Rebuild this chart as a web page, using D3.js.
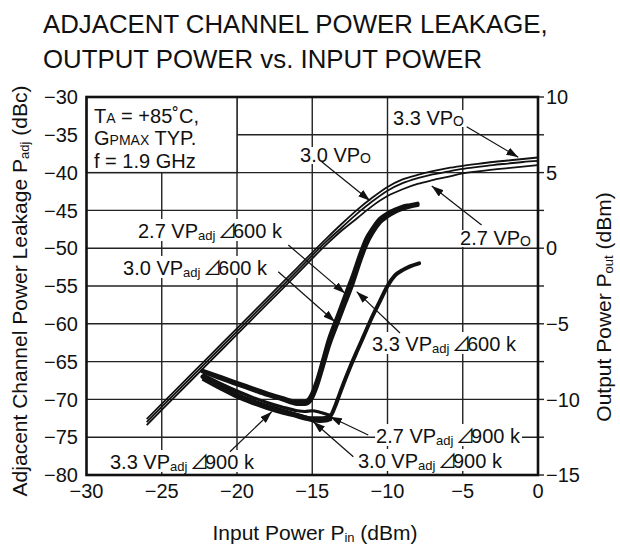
<!DOCTYPE html>
<html>
<head>
<meta charset="utf-8">
<script src="https://cdn.jsdelivr.net/npm/d3@7"></script>
<style>
  body { margin: 0; background: #fff; }
  text { font-family: "Liberation Sans", Arial, "DejaVu Sans", sans-serif; fill: #111; }
</style>
</head>
<body>
<div id="chart"></div>
<script>
// input power grid for output power curves (dBm)
var pinOut = [-26, -24, -22, -20, -18, -16, -14, -13, -12, -11, -10, -9, -8, -7, -6, -5, -4, -3, -2, -1, 0];
var pout33 = [-11.3, -9.3, -7.3, -5.3, -3.3, -1.3, 0.7, 1.65, 2.55, 3.35, 4.05, 4.55, 4.85, 5.1, 5.3, 5.45, 5.58, 5.7, 5.8, 5.9, 6.0];
var pout30 = [-11.5, -9.5, -7.5, -5.5, -3.5, -1.5, 0.5, 1.4, 2.3, 3.1, 3.8, 4.3, 4.63, 4.88, 5.07, 5.25, 5.38, 5.5, 5.6, 5.7, 5.77];
var pout27 = [-11.7, -9.7, -7.7, -5.7, -3.7, -1.7, 0.3, 1.2, 2.0, 2.8, 3.45, 3.9, 4.25, 4.5, 4.72, 4.95, 5.08, 5.2, 5.3, 5.4, 5.5];

// adjacent channel leakage, 600 kHz offset (dBc)
var pin600 = [-22.3, -21, -20, -19, -18, -17, -16, -15.5, -15.1, -14.7, -14.3, -13.9, -13.3, -12.8, -12.3, -11.8, -11.4, -11.0, -10.5, -10, -9.5, -9, -8.5, -8];
var adj600_30 = [-66.3, -67.3, -68.0, -68.7, -69.4, -70.0, -70.6, -70.6, -70.1, -68.3, -65.7, -63.0, -59.8, -57.2, -54.6, -51.6, -49.5, -48.0, -46.6, -45.8, -45.2, -44.8, -44.5, -44.3];
var adj600_27 = [-66.2, -67.1, -67.8, -68.5, -69.2, -69.8, -70.3, -70.3, -69.6, -67.6, -64.9, -62.1, -58.9, -56.2, -53.6, -50.7, -48.7, -47.4, -46.1, -45.4, -44.9, -44.5, -44.3, -44.1];
var pin600b = [-22.3, -21, -20, -19, -18, -17, -16, -15, -14.3, -13.8, -13.5, -13.2, -12.9, -12.5, -12.0, -11.6, -11.0, -10.5, -10.0, -9.5, -9.0, -8.5, -7.9];
var adj600_33 = [-67.0, -68.5, -69.4, -70.3, -71.0, -71.6, -72.1, -72.5, -72.5, -72.2, -71.0, -69.4, -67.8, -65.8, -63.5, -61.7, -59.0, -57.0, -55.0, -53.6, -52.9, -52.4, -52.0];

// adjacent channel leakage, 900 kHz offset (dBc)
var pin900 = [-22.3, -21, -20, -19, -18, -17, -16, -15.5, -15, -14.5, -14, -13.7];
var adj900_27 = [-66.7, -68.0, -68.9, -69.7, -70.4, -71.0, -71.5, -71.6, -71.5, -71.7, -72.0, -72.2];
var adj900_30 = [-67.0, -68.3, -69.3, -70.1, -70.8, -71.4, -72.0, -72.3, -72.6, -72.7, -72.6, -72.4];
var adj900_33 = [-67.3, -68.7, -69.7, -70.5, -71.2, -71.8, -72.3, -72.6, -72.8, -72.9, -72.8, -72.6];

var xTicks = [-30, -25, -20, -15, -10, -5, 0];
var yLeftTicks = [-30, -35, -40, -45, -50, -55, -60, -65, -70, -75, -80];
var yRightTicks = [10, 5, 0, -5, -10, -15];

// labels: [Pin, Padj] of text start, then arrow from -> tip
var labels = [
  {v: "3.3", sub: "O", kind: "po", at: [-9.63, -33.7], from: [-4.74, -33.93], to: [-1.31, -37.98]},
  {v: "3.0", sub: "O", kind: "po", at: [-15.81, -38.6], from: [-14.37, -38.56], to: [-11.16, -43.72]},
  {v: "2.7", sub: "O", kind: "po", at: [-5.18, -49.58], from: [-3.75, -46.93], to: [-7.06, -41.77]},
  {v: "2.7", off: "600", kind: "adj", at: [-26.58, -48.65], from: [-16.59, -49.58], to: [-12.82, -55.97]},
  {v: "3.0", off: "600", kind: "adj", at: [-27.57, -53.54], from: [-17.26, -53.11], to: [-13.49, -59.72]},
  {v: "3.3", off: "600", kind: "adj", at: [-11.03, -63.6], from: [-9.17, -61.22], to: [-12.05, -55.75]},
  {v: "2.7", off: "900", kind: "adj", at: [-10.76, -75.77], from: [-11.28, -74.71], to: [-13.82, -72.29]},
  {v: "3.0", off: "900", kind: "adj", at: [-11.96, -79.07], from: [-12.27, -77.58], to: [-14.93, -72.95]},
  {v: "3.3", off: "900", kind: "adj", at: [-28.44, -79.21], from: [-20.47, -76.92], to: [-17.69, -71.63]}
];

var W = 620, H = 547;
var L = 86.5, R = 538, T = 97, B = 475;

var svg = d3.select("#chart").append("svg")
    .attr("width", W)
    .attr("height", H);

var x = d3.scaleLinear().domain([-30, 0]).range([L, R]);
var yL = d3.scaleLinear().domain([-80, -30]).range([B, T]);
var yR = d3.scaleLinear().domain([-15, 10]).range([B, T]);

// title
svg.append("text").attr("x", 43).attr("y", 33).attr("font-size", 25.8)
    .text("ADJACENT CHANNEL POWER LEAKAGE,");
svg.append("text").attr("x", 43).attr("y", 68).attr("font-size", 25.8)
    .text("OUTPUT POWER vs. INPUT POWER");

// grid
var grid = svg.append("g").attr("stroke", "#222").attr("stroke-width", 1.4);
grid.selectAll(".gx").data(xTicks.slice(1, -1)).enter().append("line")
    .attr("x1", d => x(d)).attr("x2", d => x(d))
    .attr("y1", T).attr("y2", B);
grid.selectAll(".gy").data(yLeftTicks.slice(1, -1)).enter().append("line")
    .attr("x1", L).attr("x2", R)
    .attr("y1", d => yL(d)).attr("y2", d => yL(d));

// right side outer ticks at every grid line
svg.append("g").attr("stroke", "#222").attr("stroke-width", 1.4)
    .selectAll("line").data(yLeftTicks).enter().append("line")
    .attr("x1", R).attr("x2", R + 6)
    .attr("y1", d => yL(d)).attr("y2", d => yL(d));

// tick labels
svg.append("g").selectAll("text").data(yLeftTicks).enter().append("text")
    .attr("x", 78).attr("y", d => yL(d)).attr("dy", "0.36em")
    .attr("text-anchor", "end").attr("font-size", 20)
    .text(d => String(d).replace("-", "\u2212"));
svg.append("g").selectAll("text").data(yRightTicks).enter().append("text")
    .attr("x", 546).attr("y", d => yR(d)).attr("dy", "0.36em")
    .attr("font-size", 20)
    .text(d => String(d).replace("-", "\u2212"));
svg.append("g").selectAll("text").data(xTicks).enter().append("text")
    .attr("x", d => x(d)).attr("y", 498)
    .attr("text-anchor", "middle").attr("font-size", 20)
    .text(d => String(d).replace("-", "\u2212"));

// axis titles
var lt = svg.append("text").attr("transform", "translate(27,291) rotate(-90)")
    .attr("text-anchor", "middle").attr("font-size", 21);
lt.append("tspan").text("Adjacent Channel Power Leakage  P");
lt.append("tspan").attr("font-size", 13).attr("dy", 2).text("adj");
lt.append("tspan").attr("dy", -2).text(" (dBc)");

var rt = svg.append("text").attr("transform", "translate(611,307) rotate(-90)")
    .attr("text-anchor", "middle").attr("font-size", 21);
rt.append("tspan").text("Output Power  P");
rt.append("tspan").attr("font-size", 13).attr("dy", 2).text("out");
rt.append("tspan").attr("dy", -2).text(" (dBm)");

var bt = svg.append("text").attr("x", 315).attr("y", 540)
    .attr("text-anchor", "middle").attr("font-size", 21);
bt.append("tspan").text("Input Power  P");
bt.append("tspan").attr("font-size", 13).attr("dy", 2).text("in");
bt.append("tspan").attr("dy", -2).text(" (dBm)");

// condition box
svg.append("rect")
    .attr("x", x(-30)).attr("y", yL(-30))
    .attr("width", x(-20) - x(-30)).attr("height", yL(-40) - yL(-30))
    .attr("fill", "#fff").attr("stroke", "#222").attr("stroke-width", 1.4);
var c1 = svg.append("text").attr("x", 94).attr("y", 123).attr("font-size", 20);
c1.append("tspan").text("T");
c1.append("tspan").attr("font-size", 14).text("A");
c1.append("tspan").text(" = +85\u02DAC,");
var c2 = svg.append("text").attr("x", 94).attr("y", 145).attr("font-size", 20);
c2.append("tspan").text("G");
c2.append("tspan").attr("font-size", 14).text("PMAX");
c2.append("tspan").text(" TYP.");
svg.append("text").attr("x", 94).attr("y", 168).attr("font-size", 20).text("f = 1.9 GHz");

// annotation labels with white backing
var lab = svg.append("g");
labels.forEach(function(d) {
    var g = lab.append("g");
    var t = g.append("text").attr("x", x(d.at[0])).attr("y", yL(d.at[1])).attr("font-size", 20);
    t.append("tspan").text(d.v + " VP");
    if (d.kind == "po") {
        t.append("tspan").attr("font-size", 14).attr("dy", 1).text(d.sub);
    } else {
        t.append("tspan").attr("font-size", 13).attr("dy", 2).text("adj");
        t.append("tspan").attr("dy", -2).text("  ");
        t.append("tspan").attr("font-family", "'Noto Sans CJK JP', 'DejaVu Sans', sans-serif")
            .attr("font-size", 19).attr("dx", -3).text("\u22BF");
        t.append("tspan").attr("dx", -4).text(d.off + " k");
    }
    var bb = t.node().getBBox();
    g.insert("rect", "text")
        .attr("x", bb.x - 1).attr("y", bb.y + 3)
        .attr("width", bb.width + 2).attr("height", bb.height - 5)
        .attr("fill", "#fff");
});

// curves
var lineR = d3.line().x(d => x(d[0])).y(d => yR(d[1])).curve(d3.curveMonotoneX);
var lineL = d3.line().x(d => x(d[0])).y(d => yL(d[1])).curve(d3.curveMonotoneX);

var outs = [pout33, pout30, pout27];
svg.append("g").selectAll("path").data(outs).enter().append("path")
    .attr("d", s => lineR(d3.zip(pinOut, s)))
    .attr("fill", "none").attr("stroke", "#111").attr("stroke-width", 1.8);

var adj900 = [adj900_33, adj900_30, adj900_27];
svg.append("g").selectAll("path").data(adj900).enter().append("path")
    .attr("d", s => lineL(d3.zip(pin900, s)))
    .attr("fill", "none").attr("stroke", "#111").attr("stroke-width", 3.2);

var adj600 = [[pin600, adj600_27], [pin600, adj600_30], [pin600b, adj600_33]];
svg.append("g").selectAll("path").data(adj600).enter().append("path")
    .attr("d", s => lineL(d3.zip(s[0], s[1])))
    .attr("fill", "none").attr("stroke", "#111").attr("stroke-width", 4)
    .attr("stroke-linecap", "round");

// arrows
svg.append("defs").append("marker")
    .attr("id", "ah").attr("viewBox", "0 0 12 8")
    .attr("refX", 12).attr("refY", 4)
    .attr("markerWidth", 12).attr("markerHeight", 8)
    .attr("markerUnits", "userSpaceOnUse")
    .attr("orient", "auto")
    .append("path").attr("d", "M0,0L12,4L0,8Z").attr("fill", "#111");
svg.append("g").selectAll("line").data(labels).enter().append("line")
    .attr("x1", d => x(d.from[0])).attr("y1", d => yL(d.from[1]))
    .attr("x2", d => x(d.to[0])).attr("y2", d => yL(d.to[1]))
    .attr("stroke", "#111").attr("stroke-width", 1.2)
    .attr("marker-end", "url(#ah)");

// frame
svg.append("rect").attr("x", L).attr("y", T)
    .attr("width", R - L).attr("height", B - T)
    .attr("fill", "none").attr("stroke", "#111").attr("stroke-width", 2.6);
</script>
</body>
</html>
